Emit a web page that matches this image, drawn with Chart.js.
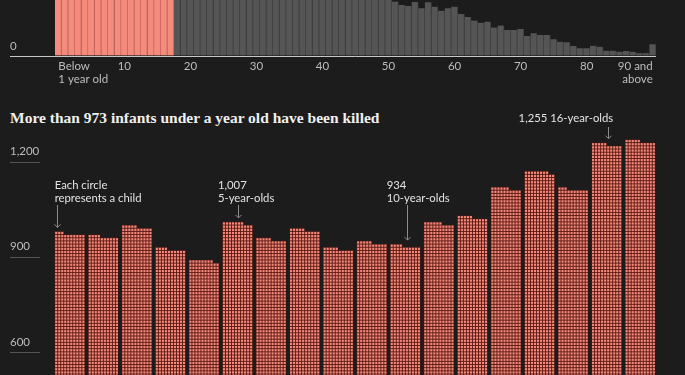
<!DOCTYPE html>
<html>
<head>
<meta charset="utf-8">
<script src="https://cdn.jsdelivr.net/npm/chart.js@4.4.1/dist/chart.umd.min.js"></script>
<style>
  html, body { margin: 0; padding: 0; background: #1c1c1c; width: 685px; height: 375px; overflow: hidden; }
  canvas { position: absolute; left: 0; }
  #ages { top: 0; }
  #kids { top: 100px; }
  #title { position: absolute; left: 10px; top: 110px; font: bold 15.5px "Liberation Serif", serif; line-height: 15.5px; color: #f0f0f0; white-space: nowrap; }
</style>
</head>
<body>
<canvas id="ages" width="685" height="95"></canvas>
<div id="title">More than 973 infants under a year old have been killed</div>
<canvas id="kids" width="685" height="460"></canvas>
<script>
// killed per year of age, 0 to 17 (both charts)
const children = [973, 964, 995, 924, 888, 1007, 955, 985, 925, 945, 934, 1006, 1025, 1116, 1168, 1113, 1255, 1265];
// 18 to 90+ (top chart, mostly cut off above)
const adults = [1150, 1120, 1080, 1040, 1010, 990, 960, 940, 920, 900, 880, 870, 850, 830, 810, 790, 780, 760, 750, 730, 720, 700, 690, 680, 660, 650, 640, 630, 620, 610, 600, 590, 570,
  545, 510, 500, 540, 477, 537, 493, 453, 477, 493, 420, 390, 355, 333, 343, 285, 305, 260, 260, 270, 200, 227, 210, 210, 167, 143, 137, 100, 77, 77, 103, 93, 53, 53, 43, 50, 43, 27, 27, 117];
const ageTicks = { 0: ['Below', '1 year old'], 10: '10', 20: '20', 30: '30', 40: '40', 50: '50', 60: '60', 70: '70', 80: '80', 90: ['90 and', 'above'] };
const kidTicks = [600, 900, 1200];
const notes = [
  { bar: 0, text: ['Each circle', 'represents a child'] },
  { bar: 5, text: ['1,007', '5-year-olds'] },
  { bar: 10, text: ['934', '10-year-olds'] },
  { bar: 16, text: ['1,255 16-year-olds'] }
];

const allAges = children.concat(adults);
const tickFont = { family: 'Lato', size: 11.5, lineHeight: 1.2 };

// --- top: every age ---
new Chart(document.getElementById('ages'), {
  type: 'bar',
  data: {
    labels: allAges.map((v, i) => String(i)),
    datasets: [{
      data: allAges,
      backgroundColor: c => c.dataIndex < children.length ? '#f48b7c' : '#555555',
      borderColor: c => c.dataIndex < children.length ? '#c4665b' : '#3d3d3d',
      borderWidth: { left: 0, right: 1, top: 0, bottom: 0 },
      barPercentage: 1,
      categoryPercentage: 1
    }]
  },
  options: {
    responsive: false,
    animation: false,
    events: [],
    layout: { padding: { left: 10, right: 29, top: 0, bottom: 0 } },
    plugins: { legend: { display: false }, tooltip: { enabled: false } },
    scales: {
      x: {
        grid: { display: false, drawTicks: false },
        border: { display: false },
        ticks: {
          autoSkip: false, maxRotation: 0, align: 'inner', padding: 3,
          color: '#bdbdbd', font: tickFont,
          callback: (v, i) => ageTicks[i] || ''
        },
        afterFit: s => { s.height = 39; }
      },
      y: {
        min: 0, max: 560,
        afterBuildTicks: s => { s.ticks = [{ value: 0 }]; },
        afterFit: s => { s.width = 45; s.paddingTop = 0; s.paddingBottom = 0; },
        border: { display: false },
        grid: { color: '#c8c8c8', tickLength: 45 },
        ticks: { crossAlign: 'far', labelOffset: -10, padding: 0, color: '#bdbdbd', font: tickFont }
      }
    }
  }
});

// --- bottom: one square per child ---
const waffle = {
  id: 'waffle',
  afterDatasetsDraw(chart) {
    const { ctx, scales: { y } } = chart;
    const meta = chart.getDatasetMeta(0);
    ctx.save();
    meta.data.forEach((bar, i) => {
      const n = children[i];
      const rows = Math.floor(n / 10), rest = n % 10;
      const left = bar.x - bar.width / 2, cw = bar.width / 10;
      const base = y.getPixelForValue(0), top = y.getPixelForValue(rows * 10);
      ctx.fillStyle = '#5a1712';
      ctx.fillRect(left, top, bar.width, base - top);
      if (rest) {
        const t2 = y.getPixelForValue((rows + 1) * 10);
        ctx.fillRect(left, t2, rest * cw, top - t2);
      }
      ctx.fillStyle = '#f28a7b';
      for (let r = 0; r <= rows; r++) {
        const cols = r < rows ? 10 : rest;
        const yb = y.getPixelForValue(r * 10), yt = y.getPixelForValue((r + 1) * 10);
        for (let c = 0; c < cols; c++) {
          ctx.fillRect(left + c * cw + 0.45, yt + 0.45, cw - 0.9, yb - yt - 0.9);
        }
      }
    });
    // short rules under the value labels
    ctx.strokeStyle = '#555555';
    ctx.lineWidth = 1;
    kidTicks.forEach(v => {
      const py = Math.round(y.getPixelForValue(v)) + 0.5;
      ctx.beginPath(); ctx.moveTo(10, py); ctx.lineTo(40, py); ctx.stroke();
    });
    ctx.restore();
  }
};

const labels = {
  id: 'labels',
  afterDraw(chart) {
    const { ctx, scales: { y } } = chart;
    const meta = chart.getDatasetMeta(0);
    // where each note sits relative to its bar
    const place = [
      { dx: 0, ax: 2, from: 'left', ty: 85, ay: 105 },
      { dx: -4.5, ax: 0.5, from: 'left', ty: 85, ay: 105 },
      { dx: -3.5, ax: 1.5, from: 'left', ty: 85, ay: 105 },
      { dx: 6.5, ax: 1.5, from: 'right', ty: 18, ay: 27 }
    ];
    ctx.save();
    ctx.font = '11.3px Lato';
    ctx.fillStyle = '#e3e3e3';
    ctx.textBaseline = 'middle';
    ctx.strokeStyle = '#8c8c8c';
    ctx.lineWidth = 1;
    notes.forEach((n, k) => {
      const p = place[k];
      const bar = meta.data[n.bar];
      const v = children[n.bar];
      const left = bar.x - bar.width / 2;
      let tx;
      if (p.from === 'left') { ctx.textAlign = 'left'; tx = left + p.dx; }
      else { ctx.textAlign = 'right'; tx = bar.x + p.dx; }
      n.text.forEach((t, j) => ctx.fillText(t, tx, p.ty + j * 13.5));
      const ax = Math.round((p.from === 'left' && n.bar === 0 ? left : bar.x) + p.ax) + 0.5;
      const topRow = Math.ceil(v / 10) * 10;
      const end = y.getPixelForValue(topRow) - 4;
      ctx.beginPath();
      ctx.moveTo(ax, p.ay); ctx.lineTo(ax, end);
      ctx.moveTo(ax - 3, end - 3); ctx.lineTo(ax, end); ctx.lineTo(ax + 3, end - 3);
      ctx.stroke();
    });
    ctx.restore();
  }
};

new Chart(document.getElementById('kids'), {
  type: 'bar',
  data: {
    labels: children.map((v, i) => String(i)),
    datasets: [{
      data: children,
      backgroundColor: 'rgba(0,0,0,0)',
      barPercentage: 0.9,
      categoryPercentage: 1
    }]
  },
  options: {
    responsive: false,
    animation: false,
    events: [],
    layout: { padding: { left: 10, right: 28, top: 30, bottom: 18 } },
    plugins: { legend: { display: false }, tooltip: { enabled: false } },
    scales: {
      x: { display: false },
      y: {
        min: 0, max: 1300,
        afterBuildTicks: s => { s.ticks = kidTicks.map(v => ({ value: v })); },
        afterFit: s => { s.width = 43; s.paddingTop = 0; s.paddingBottom = 0; },
        border: { display: false },
        grid: { display: false },
        ticks: {
          crossAlign: 'far', labelOffset: -10, padding: 0, color: '#bdbdbd', font: tickFont,
          callback: v => v.toLocaleString('en-US')
        }
      }
    }
  },
  plugins: [waffle, labels]
});
</script>
</body>
</html>
